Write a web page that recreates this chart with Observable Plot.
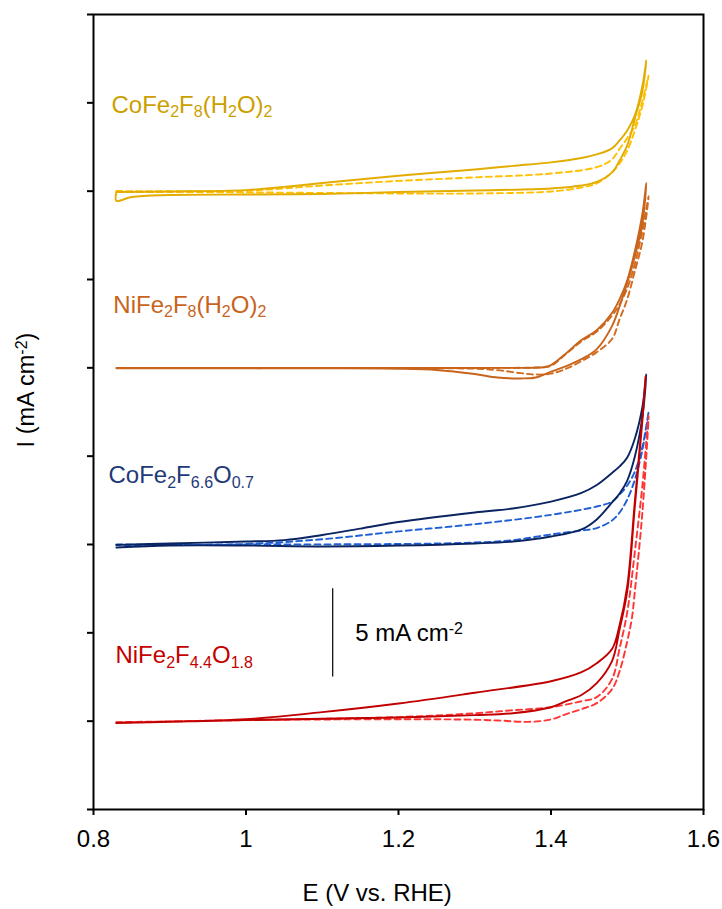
<!DOCTYPE html>
<html><head><meta charset="utf-8">
<script src="https://cdn.jsdelivr.net/npm/d3@7"></script>
<script src="https://cdn.jsdelivr.net/npm/@observablehq/plot@0.6"></script>
<style>body{margin:0;background:#fff} svg{display:block}</style>
</head><body><div id="chart"></div>
<script>
// ---- Data (E in V vs. RHE, I in mA cm^-2, relative to each trace's baseline) ----
const materials = ["CoFe_{2}F_{8}(H_{2}O)_{2}", "NiFe_{2}F_{8}(H_{2}O)_{2}", "CoFe_{2}F_{6.6}O_{0.7}", "NiFe_{2}F_{4.4}O_{1.8}"];
const offsets = [35, 25, 15, 5]; // vertical stacking offsets (mA cm^-2)
const xTicks = [0.8, 1, 1.2, 1.4, 1.6];
const yTicks = [0, 5, 10, 15, 20, 25, 30, 35, 40, 45];
const scaleBarValue = 5;

const coF8_solid_E = [0.83,0.9,1.0,1.05,1.1,1.2,1.3,1.35,1.4,1.44,1.46,1.48,1.49,1.50,1.51,1.52,1.525,1.52,1.51,1.50,1.49,1.48,1.46,1.44,1.4,1.3,1.2,1.1,1.0,0.9,0.85,0.83,0.83];
const coF8_solid_I = [-0.05,-0.02,0.06,0.24,0.46,0.87,1.23,1.43,1.63,1.88,2.08,2.42,2.87,3.44,4.29,5.98,7.4,5.7,4.12,2.59,1.74,1.06,0.52,0.32,0.15,0.04,-0.05,-0.16,-0.19,-0.22,-0.33,-0.55,-0.05];
const coF8_dash_E = [0.83,1.0,1.1,1.2,1.3,1.4,1.46,1.48,1.49,1.50,1.51,1.52,1.528,1.52,1.51,1.50,1.49,1.48,1.46,1.44,1.4,1.3,1.2,1.0,0.83];
const coF8_dash_I = [0.01,0.03,0.32,0.58,0.78,1.0,1.36,1.8,2.4,3.0,3.72,5.14,6.55,4.85,3.44,2.3,1.57,1.06,0.44,0.21,-0.02,-0.13,-0.13,-0.07,-0.05];

const niF8_solid_E = [0.83,1.0,1.2,1.3,1.37,1.39,1.40,1.42,1.44,1.46,1.48,1.49,1.50,1.51,1.52,1.525,1.52,1.51,1.50,1.49,1.48,1.46,1.44,1.42,1.40,1.38,1.36,1.33,1.30,1.25,1.20,1.10,0.83];
const niF8_solid_I = [0,0,0,0,0,0.03,0.15,0.83,1.57,2.13,3.1,3.89,4.96,6.61,8.76,10.46,8.19,6.32,4.8,3.49,2.36,1.06,0.49,0.1,-0.22,-0.55,-0.6,-0.55,-0.35,-0.12,-0.05,-0.03,-0.03];
const niF8_dash_E = [1.01,1.35,1.38,1.40,1.42,1.44,1.46,1.48,1.49,1.50,1.51,1.52,1.528,1.52,1.51,1.50,1.49,1.48,1.46,1.44,1.42,1.40,1.38,1.36,1.33,1.30,1.01];
const niF8_dash_I = [0,0,0.02,0.12,0.8,1.5,2.05,2.95,3.6,4.5,5.9,7.8,9.71,7.17,5.48,3.89,2.76,1.63,0.89,0.38,-0.05,-0.33,-0.38,-0.3,-0.13,-0.05,-0.02];

const coO_solid_E = [0.83,0.9,1.0,1.05,1.1,1.15,1.2,1.3,1.35,1.4,1.44,1.46,1.48,1.49,1.50,1.51,1.52,1.525,1.52,1.51,1.50,1.49,1.48,1.46,1.44,1.4,1.35,1.3,1.2,1.1,1.0,0.9,0.83];
const coO_solid_I = [-0.02,0.06,0.17,0.25,0.54,0.9,1.27,1.81,2.04,2.43,2.92,3.37,4.05,4.42,4.93,6.0,7.81,9.63,7.25,4.98,3.62,2.89,2.38,1.42,0.85,0.45,0.17,0.06,-0.06,-0.11,-0.06,-0.06,-0.17];
const coO_dash_E = [0.83,1.0,1.1,1.2,1.3,1.4,1.46,1.48,1.49,1.50,1.51,1.52,1.528,1.52,1.51,1.50,1.49,1.48,1.46,1.44,1.4,1.35,1.3,1.2,1.0,0.83];
const coO_dash_I = [0,0.03,0.3,0.74,1.15,1.68,2.15,2.43,2.83,3.34,4.13,5.55,7.53,5.38,3.68,2.55,1.81,1.36,0.93,0.79,0.57,0.25,0.11,0.03,0,-0.03];

const niO_solid_E = [0.83,0.9,1.0,1.1,1.2,1.3,1.4,1.44,1.46,1.48,1.49,1.50,1.51,1.52,1.524,1.52,1.51,1.50,1.49,1.48,1.46,1.44,1.42,1.40,1.35,1.3,1.2,1.1,1.0,0.9,0.83];
const niO_solid_I = [-0.08,-0.03,0.11,0.51,1.0,1.61,2.26,2.77,3.28,4.08,5.44,7.64,12.46,17.27,19.5,17.1,12.17,7.36,5.21,3.4,2.15,1.48,1.13,0.79,0.45,0.34,0.21,0.14,0.06,-0.03,-0.11];
const niO_dash_E = [0.83,1.0,1.2,1.3,1.35,1.4,1.44,1.46,1.48,1.49,1.50,1.51,1.52,1.528,1.52,1.51,1.506,1.50,1.49,1.48,1.46,1.44,1.42,1.40,1.37,1.33,1.27,1.0,0.83];
const niO_dash_I = [-0.06,0.06,0.23,0.45,0.62,0.79,1.13,1.36,2.38,4.13,6.17,9.6,13.4,17.3,11.9,7.36,5.8,4.53,2.83,1.81,1.02,0.68,0.4,0.1,-0.04,0.04,0.1,0.06,-0.08];

// ---- Styles / layout ----
const solidColors = ["#E3AC00", "#C8641C", "#0A2462", "#C00000"];
const dashColors  = ["#FFC000", "#D26B1E", "#1F5FD6", "#FF3535"];
const labelColors = ["#CC9F00", "#C8641C", "#1F3A78", "#C40000"];
const labelPos = [[0.8236, 39.87], [0.826, 28.55], [0.8197, 18.9], [0.8288, 8.73]];

const curves = [
  {m: 0, dash: true,  E: coF8_dash_E,  I: coF8_dash_I},
  {m: 0, dash: false, E: coF8_solid_E, I: coF8_solid_I},
  {m: 1, dash: true,  E: niF8_dash_E,  I: niF8_dash_I},
  {m: 1, dash: false, E: niF8_solid_E, I: niF8_solid_I},
  {m: 2, dash: true,  E: coO_dash_E,   I: coO_dash_I},
  {m: 2, dash: false, E: coO_solid_E,  I: coO_solid_I},
  {m: 3, dash: true,  E: niO_dash_E,   I: niO_dash_I},
  {m: 3, dash: false, E: niO_solid_E,  I: niO_solid_I}
];

const lineMarks = curves.map(c => Plot.line(
  c.E.map((e, i) => ({E: e, Y: c.I[i] + offsets[c.m]})),
  {x: "E", y: "Y", stroke: c.dash ? dashColors[c.m] : solidColors[c.m],
   strokeWidth: 1.9, strokeDasharray: c.dash ? "6,4" : null, curve: "catmull-rom"}
));

const labelMarks = materials.map((t, i) => Plot.text([t], {
  x: () => labelPos[i][0], y: () => labelPos[i][1], text: d => d,
  textAnchor: "start", lineAnchor: "middle", fill: labelColors[i], fontSize: 24
}));

const barRow = [{E: 1.1137, y1: 7.5, y2: 7.5 + scaleBarValue}];

const chart = Plot.plot({
  width: 722, height: 909,
  marginLeft: 93, marginRight: 19, marginTop: 14, marginBottom: 100,
  x: {domain: [0.8, 1.6]},
  y: {domain: [0, 45]},
  style: {fontFamily: '"Liberation Sans", Arial, sans-serif', fontSize: "24px", color: "#000", background: "#fff"},
  marks: [
    ...lineMarks,
    Plot.axisX({ticks: xTicks, tickFormat: d => String(d), tickSize: 6, tickPadding: 14, strokeWidth: 2, label: null, fontSize: 24}),
    Plot.axisY({ticks: yTicks, tickFormat: () => "", tickSize: 6, strokeWidth: 2, label: null}),
    Plot.frame({stroke: "#000", strokeWidth: 2}),
    Plot.ruleX(barRow, {x: "E", y1: "y1", y2: "y2", stroke: "#000", strokeWidth: 1.2}),
    Plot.text(barRow, {x: d => d.E + 0.0297, y: d => d.y1 + scaleBarValue / 2, text: () => `${scaleBarValue} mA cm^{-2}`, textAnchor: "start", lineAnchor: "middle", fill: "#000", fontSize: 24}),
    ...labelMarks,
    Plot.text(["E (V vs. RHE)"], {frameAnchor: "bottom-left", dx: 209, dy: 84, text: d => d, textAnchor: "start", lineAnchor: "middle", fill: "#000", fontSize: 24}),
    Plot.text(["I (mA cm^{-2})"], {frameAnchor: "left", dx: -67, dy: -22, rotate: -90, text: d => d, textAnchor: "middle", lineAnchor: "middle", fill: "#000", fontSize: 23.5})
  ]
});

// rich text: _{...} subscript, ^{...} superscript
const NS = "http://www.w3.org/2000/svg";
chart.querySelectorAll("text").forEach(el => {
  const s = el.textContent;
  if (!/[_^]\{/.test(s)) return;
  el.textContent = "";
  const re = /([_^])\{([^}]*)\}|([^_^]+)/g;
  let m, shift = 0;
  while ((m = re.exec(s))) {
    const t = document.createElementNS(NS, "tspan");
    if (m[3] !== undefined) {
      t.textContent = m[3];
      if (shift) t.setAttribute("dy", -shift);
      shift = 0;
    } else {
      const d = m[1] === "_" ? 4.6 : -7;
      t.textContent = m[2];
      t.setAttribute("font-size", 16);
      t.setAttribute("dy", d - shift);
      shift = d;
    }
    el.appendChild(t);
  }
});

document.getElementById("chart").appendChild(chart);
</script>
</body></html>
